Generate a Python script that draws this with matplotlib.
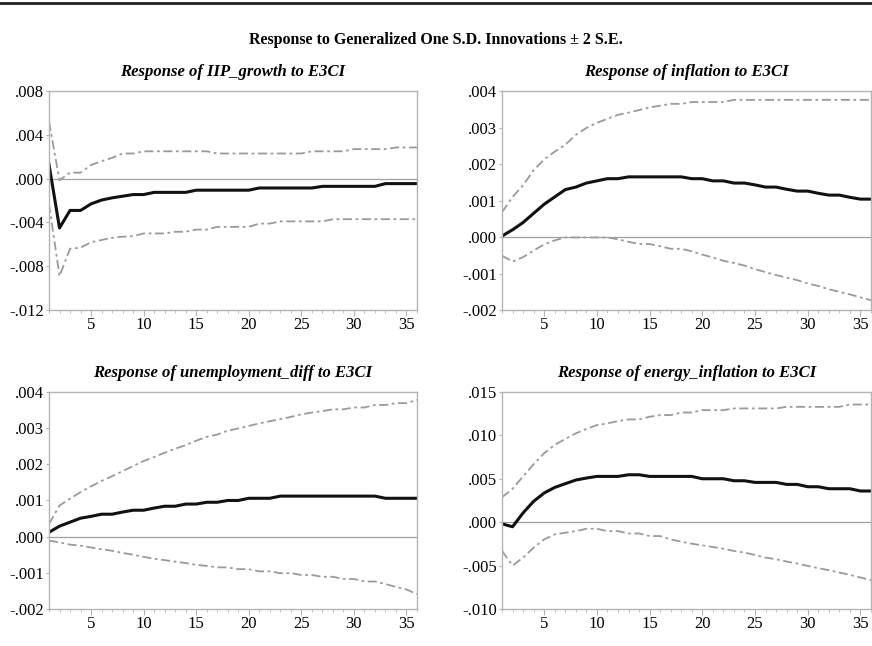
import matplotlib.pyplot as plt
from matplotlib.lines import Line2D
from matplotlib.ticker import FuncFormatter, MultipleLocator

plt.rcParams['font.family'] = ['Liberation Serif', 'DejaVu Serif']

periods = list(range(1, 37))

# IIP_growth (values in 1e-3)
iip_resp = [1.3, -4.5, -2.9, -2.9, -2.3, -1.95, -1.75, -1.6, -1.45, -1.45,
            -1.25, -1.25, -1.25, -1.25, -1.05, -1.05, -1.05, -1.05, -1.05, -1.05,
            -0.85, -0.85, -0.85, -0.85, -0.85, -0.85, -0.7, -0.7, -0.7, -0.7,
            -0.7, -0.7, -0.45, -0.45, -0.45, -0.45]
iip_up = [5.2, -0.15, 0.55, 0.55, 1.25, 1.6, 1.9, 2.3, 2.3, 2.5,
          2.5, 2.5, 2.5, 2.5, 2.5, 2.5, 2.3, 2.3, 2.3, 2.3,
          2.3, 2.3, 2.3, 2.3, 2.3, 2.5, 2.5, 2.5, 2.5, 2.7,
          2.7, 2.7, 2.7, 2.85, 2.85, 2.85]
iip_lo = [-2.3, -8.9, -6.4, -6.3, -5.8, -5.6, -5.4, -5.3, -5.25, -5.0,
          -5.0, -5.0, -4.85, -4.85, -4.65, -4.65, -4.4, -4.4, -4.4, -4.4,
          -4.1, -4.1, -3.9, -3.9, -3.9, -3.9, -3.9, -3.7, -3.7, -3.7,
          -3.7, -3.7, -3.7, -3.7, -3.7, -3.7]

# inflation
inf_resp = [0.03, 0.2, 0.4, 0.65, 0.9, 1.1, 1.3, 1.37, 1.48, 1.54,
            1.6, 1.6, 1.65, 1.65, 1.65, 1.65, 1.65, 1.65, 1.6, 1.6,
            1.54, 1.54, 1.48, 1.48, 1.43, 1.37, 1.37, 1.31, 1.26, 1.26,
            1.2, 1.15, 1.15, 1.09, 1.04, 1.04]
inf_up = [0.68, 1.1, 1.42, 1.83, 2.13, 2.34, 2.53, 2.8, 2.99, 3.13,
          3.24, 3.35, 3.41, 3.48, 3.55, 3.6, 3.65, 3.65, 3.7, 3.7,
          3.7, 3.7, 3.76, 3.76, 3.76, 3.76, 3.76, 3.76, 3.76, 3.76,
          3.76, 3.76, 3.76, 3.76, 3.76, 3.76]
inf_lo = [-0.51, -0.67, -0.55, -0.37, -0.2, -0.09, -0.01, -0.01, -0.01, -0.01,
          -0.01, -0.06, -0.13, -0.19, -0.19, -0.25, -0.32, -0.32, -0.39, -0.48,
          -0.56, -0.65, -0.71, -0.78, -0.88, -0.96, -1.04, -1.11, -1.18, -1.27,
          -1.34, -1.43, -1.5, -1.57, -1.65, -1.73]

# unemployment_diff
une_resp = [0.12, 0.29, 0.4, 0.51, 0.56, 0.62, 0.62, 0.68, 0.73, 0.73,
            0.79, 0.84, 0.84, 0.9, 0.9, 0.95, 0.95, 1.0, 1.0, 1.06,
            1.06, 1.06, 1.12, 1.12, 1.12, 1.12, 1.12, 1.12, 1.12, 1.12,
            1.12, 1.12, 1.06, 1.06, 1.06, 1.06]
une_up = [0.35, 0.86, 1.05, 1.23, 1.39, 1.54, 1.67, 1.81, 1.95, 2.09,
          2.2, 2.32, 2.43, 2.53, 2.65, 2.76, 2.82, 2.93, 2.99, 3.06,
          3.13, 3.19, 3.25, 3.31, 3.38, 3.43, 3.47, 3.52, 3.52, 3.57,
          3.57, 3.64, 3.64, 3.69, 3.69, 3.78]
une_lo = [-0.11, -0.16, -0.22, -0.25, -0.3, -0.35, -0.39, -0.45, -0.5, -0.56,
          -0.61, -0.65, -0.69, -0.73, -0.78, -0.81, -0.85, -0.85, -0.9, -0.9,
          -0.96, -0.96, -1.01, -1.01, -1.06, -1.06, -1.11, -1.11, -1.17, -1.17,
          -1.24, -1.24, -1.31, -1.39, -1.46, -1.59]

# energy_inflation
ene_resp = [-0.19, -0.53, 1.07, 2.4, 3.36, 4.0, 4.43, 4.85, 5.08, 5.27,
            5.27, 5.27, 5.46, 5.46, 5.27, 5.27, 5.27, 5.27, 5.27, 5.0,
            5.0, 5.0, 4.77, 4.77, 4.58, 4.58, 4.58, 4.35, 4.35, 4.08,
            4.08, 3.85, 3.85, 3.85, 3.59, 3.59]
ene_up = [2.86, 3.85, 5.27, 6.68, 7.94, 8.9, 9.58, 10.23, 10.73, 11.18,
          11.37, 11.64, 11.83, 11.83, 12.14, 12.33, 12.33, 12.63, 12.63, 12.9,
          12.9, 12.9, 13.1, 13.1, 13.1, 13.1, 13.1, 13.28, 13.28, 13.28,
          13.28, 13.28, 13.28, 13.55, 13.55, 13.55]
ene_lo = [-3.3, -5.0, -4.08, -2.94, -1.98, -1.41, -1.22, -1.03, -0.76, -0.76,
          -1.03, -1.03, -1.3, -1.3, -1.6, -1.6, -1.98, -2.25, -2.48, -2.67,
          -2.86, -3.05, -3.32, -3.5, -3.78, -4.08, -4.27, -4.54, -4.77, -5.04,
          -5.3, -5.53, -5.8, -6.07, -6.37, -6.68]

panels = [
    ('Response of IIP_growth to E3CI', iip_resp, iip_up, iip_lo, (-12, 8), 4),
    ('Response of inflation to E3CI', inf_resp, inf_up, inf_lo, (-2, 4), 1),
    ('Response of unemployment_diff to E3CI', une_resp, une_up, une_lo, (-2, 4), 1),
    ('Response of energy_inflation to E3CI', ene_resp, ene_up, ene_lo, (-10, 15), 5),
]

# axes rectangles in figure fraction
rects = [
    [0.0562, 0.520, 0.422, 0.339],
    [0.5757, 0.520, 0.4231, 0.339],
    [0.0562, 0.0573, 0.422, 0.336],
    [0.5757, 0.0573, 0.4231, 0.336],
]

framecolor = '#b4b4b4'
bandcolor = '#9a9a9a'


def fmt(v, pos):
    s = f"{v:.3f}"
    return s.replace('0.', '.', 1)


fig = plt.figure(figsize=(8.72, 6.46), dpi=100)

# top rule and main title
fig.add_artist(Line2D([0, 1], [0.995, 0.995], color='#222222', lw=2.0,
                      transform=fig.transFigure))
fig.text(0.5, 0.938, 'Response to Generalized One S.D. Innovations \u00b1 2 S.E.',
         ha='center', va='center', fontsize=11.5, fontweight='bold')

for (title, resp, up, lo, ylim, step), rect in zip(panels, rects):
    ax = fig.add_axes(rect)
    scale = 1e-3
    ax.plot(periods, [v * scale for v in up], color=bandcolor, lw=1.3,
            linestyle=(0, (5, 2, 1.5, 2)))
    ax.plot(periods, [v * scale for v in lo], color=bandcolor, lw=1.3,
            linestyle=(0, (5, 2, 1.5, 2)))
    ax.axhline(0, color='#a0a0a0', lw=0.9)
    ax.plot(periods, [v * scale for v in resp], color='#111111', lw=2.2)

    ax.set_xlim(1, 36)
    ax.set_ylim(ylim[0] * scale, ylim[1] * scale)
    ax.yaxis.set_major_locator(MultipleLocator(step * scale))
    ax.yaxis.set_major_formatter(FuncFormatter(fmt))
    ax.xaxis.set_major_locator(MultipleLocator(5))
    ax.xaxis.set_minor_locator(MultipleLocator(1))

    for sp in ax.spines.values():
        sp.set_color(framecolor)
        sp.set_linewidth(1.0)
    ax.tick_params(axis='x', which='major', direction='out', length=4,
                   color=framecolor, labelsize=12, pad=1)
    ax.tick_params(axis='x', which='minor', direction='out', length=2.5,
                   color=framecolor)
    ax.tick_params(axis='y', direction='out', length=2.5, color=framecolor,
                   labelsize=12, pad=1)
    for lbl in ax.get_yticklabels():
        lbl.set_verticalalignment('center_baseline')
    ax.set_title(title, fontsize=12, fontweight='bold', fontstyle='italic',
                 pad=11)

plt.savefig('out.png', dpi=100)
plt.close()
